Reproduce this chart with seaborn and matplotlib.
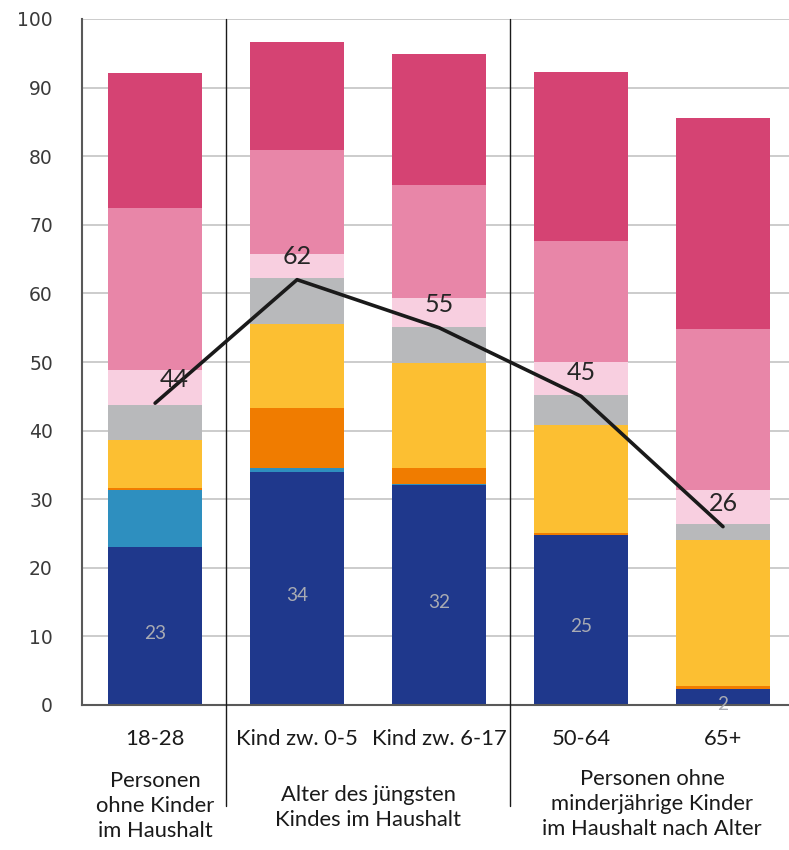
import numpy as np
import pandas as pd
import seaborn as sns
import matplotlib
matplotlib.use("Agg")
import matplotlib.pyplot as plt
from matplotlib.ticker import MultipleLocator, FixedLocator

# --- data -------------------------------------------------------------
categories = ["18-28", "Kind zw. 0-5", "Kind zw. 6-17", "50-64", "65+"]

seg_blue = [23.0, 34.0, 32.0, 24.8, 2.3]
seg_teal = [8.3, 0.6, 0.2, 0.0, 0.1]
seg_orange = [0.3, 8.7, 2.4, 0.3, 0.3]
seg_yellow = [7.0, 12.3, 15.3, 15.7, 21.3]
seg_gray = [5.1, 6.6, 5.2, 4.4, 2.4]
seg_lightpink = [5.1, 3.6, 4.2, 4.8, 5.0]
seg_pink = [23.6, 15.1, 16.5, 17.7, 23.4]
seg_red = [19.8, 15.8, 19.1, 24.6, 30.7]

line_values = [44, 62, 55, 45, 26]

y_ticks = [0, 10, 20, 30, 40, 50, 60, 70, 80, 90, 100]

group_labels = [
    "Personen\nohne Kinder\nim Haushalt",
    "Alter des jüngsten\nKindes im Haushalt",
    "Personen ohne\nminderjährige Kinder\nim Haushalt nach Alter",
]

segments = [seg_blue, seg_teal, seg_orange, seg_yellow,
            seg_gray, seg_lightpink, seg_pink, seg_red]
seg_colors = ["#1f388c", "#2e8fbf", "#f07c00", "#fcbf32",
              "#b8b9bb", "#f8cfe0", "#e886a8", "#d54373"]

# --- style ------------------------------------------------------------
sns.set_style("white")
plt.rcParams["font.family"] = ["Lato", "DejaVu Sans"]

fig = plt.figure(figsize=(7.89, 8.5), dpi=100)
ax = fig.add_axes([82 / 789, 1 - 705 / 850, 1 - 82 / 789, (705 - 19) / 850])

# stacked bars: draw cumulative tops from the highest segment downwards
tops = np.cumsum(np.array(segments), axis=0)
for k in range(len(segments) - 1, -1, -1):
    df = pd.DataFrame({"category": categories, "top": tops[k]})
    sns.barplot(data=df, x="category", y="top", order=categories,
                color=seg_colors[k], saturation=1, width=0.663,
                linewidth=0, ax=ax, zorder=2)

# share line
sns.lineplot(x=np.arange(len(categories)), y=line_values, color="#1a1a1a",
             linewidth=2.6, ax=ax, zorder=4)
for i, v in enumerate(line_values):
    dx = 14 if i == 0 else 0
    ax.annotate(f"{v}", (i, v), xytext=(dx, 17), textcoords="offset points",
                ha="center", va="center", fontsize=18, color="#262626",
                zorder=5)

# values inside the bottom segment
for i, v in enumerate(seg_blue):
    ax.annotate(f"{round(v)}", (i, v / 2), xytext=(0, -5),
                textcoords="offset points", ha="center", va="center",
                fontsize=13.7, color="#a9abb3", zorder=5)

# --- axes -------------------------------------------------------------
ax.set_ylim(0, 100)
ax.set_xlim(-0.515, 4.465)
ax.set_xlabel("")
ax.set_ylabel("")

ax.set_yticks(y_ticks)
ax.set_yticklabels([str(t) for t in y_ticks])
ax.yaxis.set_minor_locator(MultipleLocator(5))
ax.yaxis.grid(True, which="major", color="#c3c3c3", linewidth=1.2)
ax.set_axisbelow(True)

ax.tick_params(axis="y", which="major", direction="out", length=10,
               width=1.1, color="#595959", pad=11, labelsize=13.5,
               labelcolor="#3a3a3a", labelfontfamily="DejaVu Sans")
ax.tick_params(axis="y", which="minor", direction="out", length=5,
               width=1.1, color="#595959")

ax.set_xticks(range(len(categories)))
ax.set_xticklabels(categories)
ax.xaxis.set_minor_locator(FixedLocator([-0.515, 0.5, 1.5, 2.5, 3.5]))
ax.tick_params(axis="x", which="major", length=0, pad=17, labelsize=15.8,
               labelcolor="#1a1a1a")
ax.tick_params(axis="x", which="minor", direction="out", length=10,
               width=1.1, color="#595959")

for side in ("top", "right"):
    ax.spines[side].set_visible(False)
for side in ("left", "bottom"):
    ax.spines[side].set_color("#595959")
    ax.spines[side].set_linewidth(1.5)

# group separators running from the top through the label area
xt = ax.get_xaxis_transform()
for xs in (0.5, 2.5):
    ax.plot([xs, xs], [1.0, -0.147], transform=xt, color="#1a1a1a",
            linewidth=1.0, clip_on=False, zorder=6)

# group captions
for xc, yc, txt in zip([0, 1.5, 3.5], [-0.147, -0.149, -0.144], group_labels):
    ax.text(xc, yc, txt, transform=xt, ha="center", va="center",
            multialignment="center", fontsize=15.8, color="#1a1a1a",
            linespacing=1.33)

fig.savefig("out.png", dpi=100)
